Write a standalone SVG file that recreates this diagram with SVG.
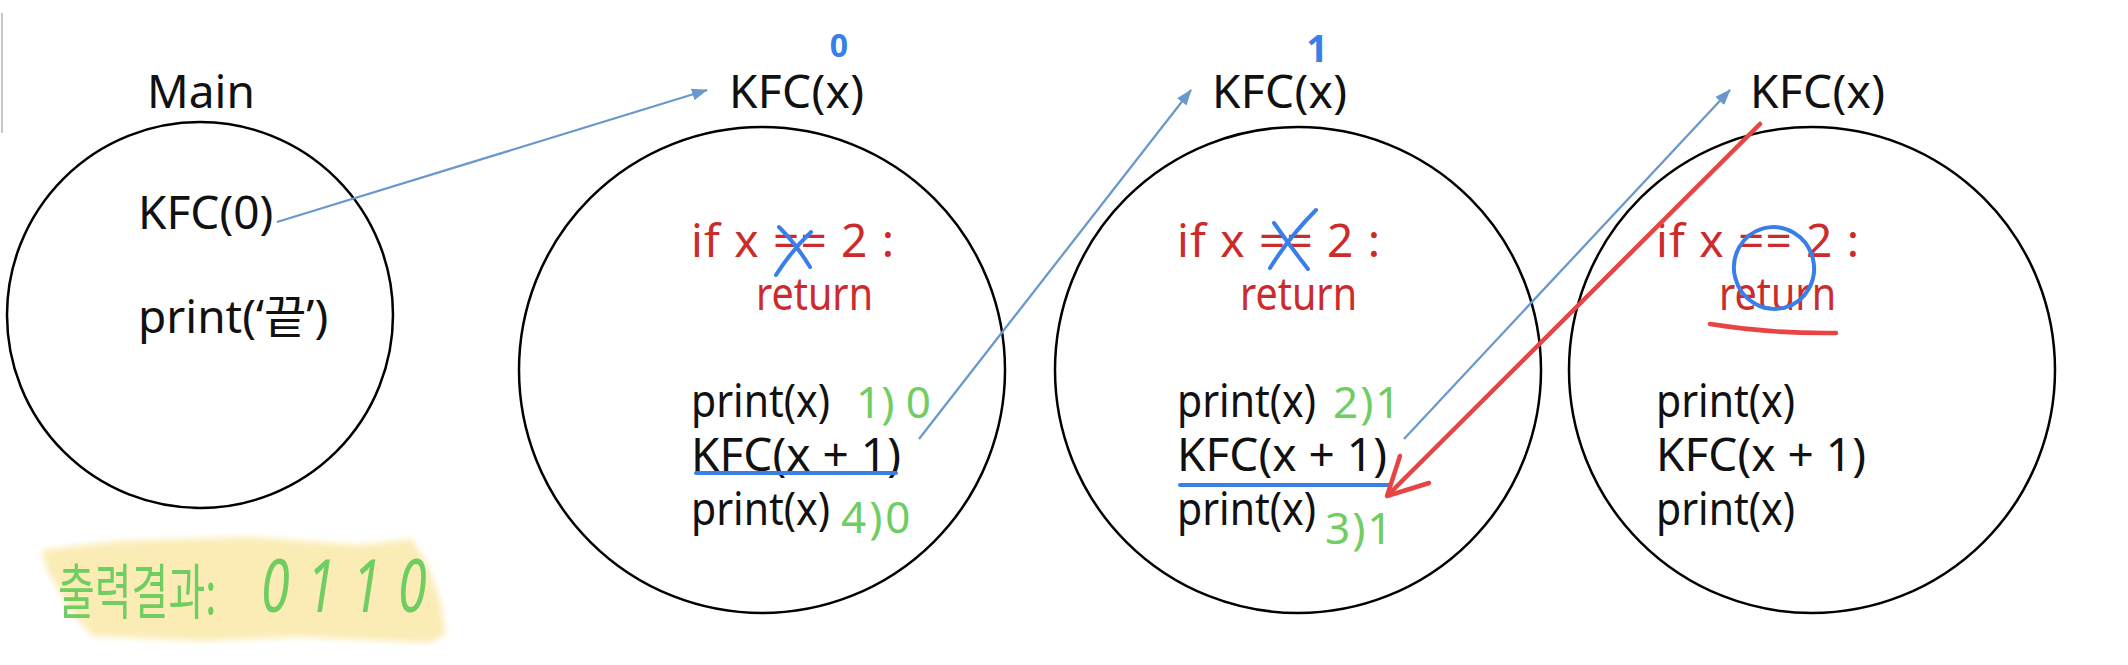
<svg xmlns="http://www.w3.org/2000/svg" width="2128" height="665" viewBox="0 0 2128 665">
<defs>
<marker id="ah" viewBox="0 0 16 12" refX="15" refY="6" markerWidth="16" markerHeight="12" markerUnits="userSpaceOnUse" orient="auto"><path d="M0,0 L16,6 L0,12 z" fill="#6a98cc"/></marker>
<filter id="soft" x="-10%" y="-20%" width="120%" height="140%"><feGaussianBlur stdDeviation="3"/></filter>
</defs>
<style>
.t{font-family:"Noto Sans","Noto Sans CJK KR",sans-serif;font-size:46px;fill:#111}
.r{fill:#cc2b2b}
.g{font-family:"Noto Sans","Noto Sans CJK KR",sans-serif;font-size:44px;fill:#6fcd62}
.b{font-family:"Noto Sans",sans-serif;font-weight:bold;fill:#3a7ee8}
.node{fill:none;stroke:#000;stroke-width:2.5}
.conn{stroke:#6a98cc;stroke-width:2.3;fill:none}
.red{stroke:#e84444;stroke-width:4.5;fill:none;stroke-linecap:round;stroke-linejoin:round}
.mark{stroke:#3a7ee8;stroke-width:4;fill:none;stroke-linecap:round}
</style>
<rect width="2128" height="665" fill="#fff"/>
<line x1="2" y1="13" x2="2" y2="133" stroke="#c8c8c8" stroke-width="2"/>

<g id="main">
<text class="t" x="147" y="108">Main</text>
<circle class="node" cx="200" cy="315" r="193"/>
<text class="t" x="138" y="229">KFC(0)</text>
<text class="t" x="138" y="333">print(‘끝’)</text>
</g>

<g id="kfc0">
<text class="b" x="839" y="57" font-size="32" text-anchor="middle">0</text>
<text class="t" x="729" y="108" textLength="135">KFC(x)</text>
<circle class="node" cx="762" cy="370" r="243"/>
<text class="t r" x="691" y="257" textLength="203">if x == 2 :</text>
<text class="t r" x="756" y="310" textLength="117" lengthAdjust="spacingAndGlyphs">return</text>
<path class="mark" d="M779,227 Q796,244 810,267 M776,275 Q792,250 811,232"/>
<text class="t" x="691" y="417" textLength="139" lengthAdjust="spacingAndGlyphs">print(x)</text>
<text class="g" x="856" y="418">1) 0</text>
<text class="t" x="691" y="471" textLength="210">KFC(x + 1)</text>
<line class="mark" x1="696" y1="473" x2="896" y2="473"/>
<text class="t" x="691" y="525" textLength="139" lengthAdjust="spacingAndGlyphs">print(x)</text>
<text class="g" x="841" y="533" letter-spacing="3">4)0</text>
</g>

<g id="kfc1">
<text class="b" x="1317" y="62" font-size="38" text-anchor="middle">1</text>
<text class="t" x="1212" y="108" textLength="135">KFC(x)</text>
<circle class="node" cx="1298" cy="370" r="243"/>
<text class="t r" x="1177" y="257" textLength="203">if x == 2 :</text>
<text class="t r" x="1240" y="310" textLength="117" lengthAdjust="spacingAndGlyphs">return</text>
<path class="mark" d="M1274,223 Q1290,246 1308,269 M1270,268 Q1290,236 1316,210"/>
<text class="t" x="1177" y="417" textLength="139" lengthAdjust="spacingAndGlyphs">print(x)</text>
<text class="g" x="1333" y="418" letter-spacing="2">2)1</text>
<text class="t" x="1177" y="471" textLength="210">KFC(x + 1)</text>
<line class="mark" x1="1180" y1="485" x2="1390" y2="485"/>
<text class="t" x="1177" y="525" textLength="139" lengthAdjust="spacingAndGlyphs">print(x)</text>
<text class="g" x="1325" y="544" font-size="38" letter-spacing="2">3)1</text>
</g>

<g id="kfc2">
<text class="t" x="1750" y="108" textLength="135">KFC(x)</text>
<circle class="node" cx="1812" cy="370" r="243"/>
<text class="t r" x="1656" y="257" textLength="203">if x == 2 :</text>
<text class="t r" x="1719" y="310" textLength="117" lengthAdjust="spacingAndGlyphs">return</text>
<ellipse class="mark" cx="1774" cy="268" rx="40" ry="41" transform="rotate(-15 1774 268)"/>
<path class="red" d="M1710,324 Q1772,334 1836,333"/>
<text class="t" x="1656" y="417" textLength="139" lengthAdjust="spacingAndGlyphs">print(x)</text>
<text class="t" x="1656" y="471" textLength="210">KFC(x + 1)</text>
<text class="t" x="1656" y="525" textLength="139" lengthAdjust="spacingAndGlyphs">print(x)</text>
</g>

<g id="connectors">
<line class="conn" x1="277" y1="222" x2="707" y2="90" marker-end="url(#ah)"/>
<line class="conn" x1="919" y1="439" x2="1191" y2="90" marker-end="url(#ah)"/>
<line class="conn" x1="1404" y1="439" x2="1730" y2="90" marker-end="url(#ah)"/>
<line class="red" x1="1760" y1="124" x2="1389" y2="494"/>
<polyline class="red" points="1400,456 1387,496 1429,483"/>
</g>

<g id="result">
<path d="M42,550 L120,541 L250,537 L360,545 L412,539 L426,562 L440,600 L446,634 L430,643 L300,637 L200,641 L92,636 L70,610 L46,568 Z" fill="#fbecb6" filter="url(#soft)"/>
<text transform="translate(58,614) scale(1,1.5)" font-family="'Noto Sans CJK KR','Noto Sans',sans-serif" font-size="40" fill="#6fcd62">출력결과:</text>
<text transform="translate(261,612) scale(1,1.4)" font-family="'Noto Sans',sans-serif" font-style="italic" font-size="52" letter-spacing="17" fill="#6fcd62">0110</text>
</g>
</svg>
